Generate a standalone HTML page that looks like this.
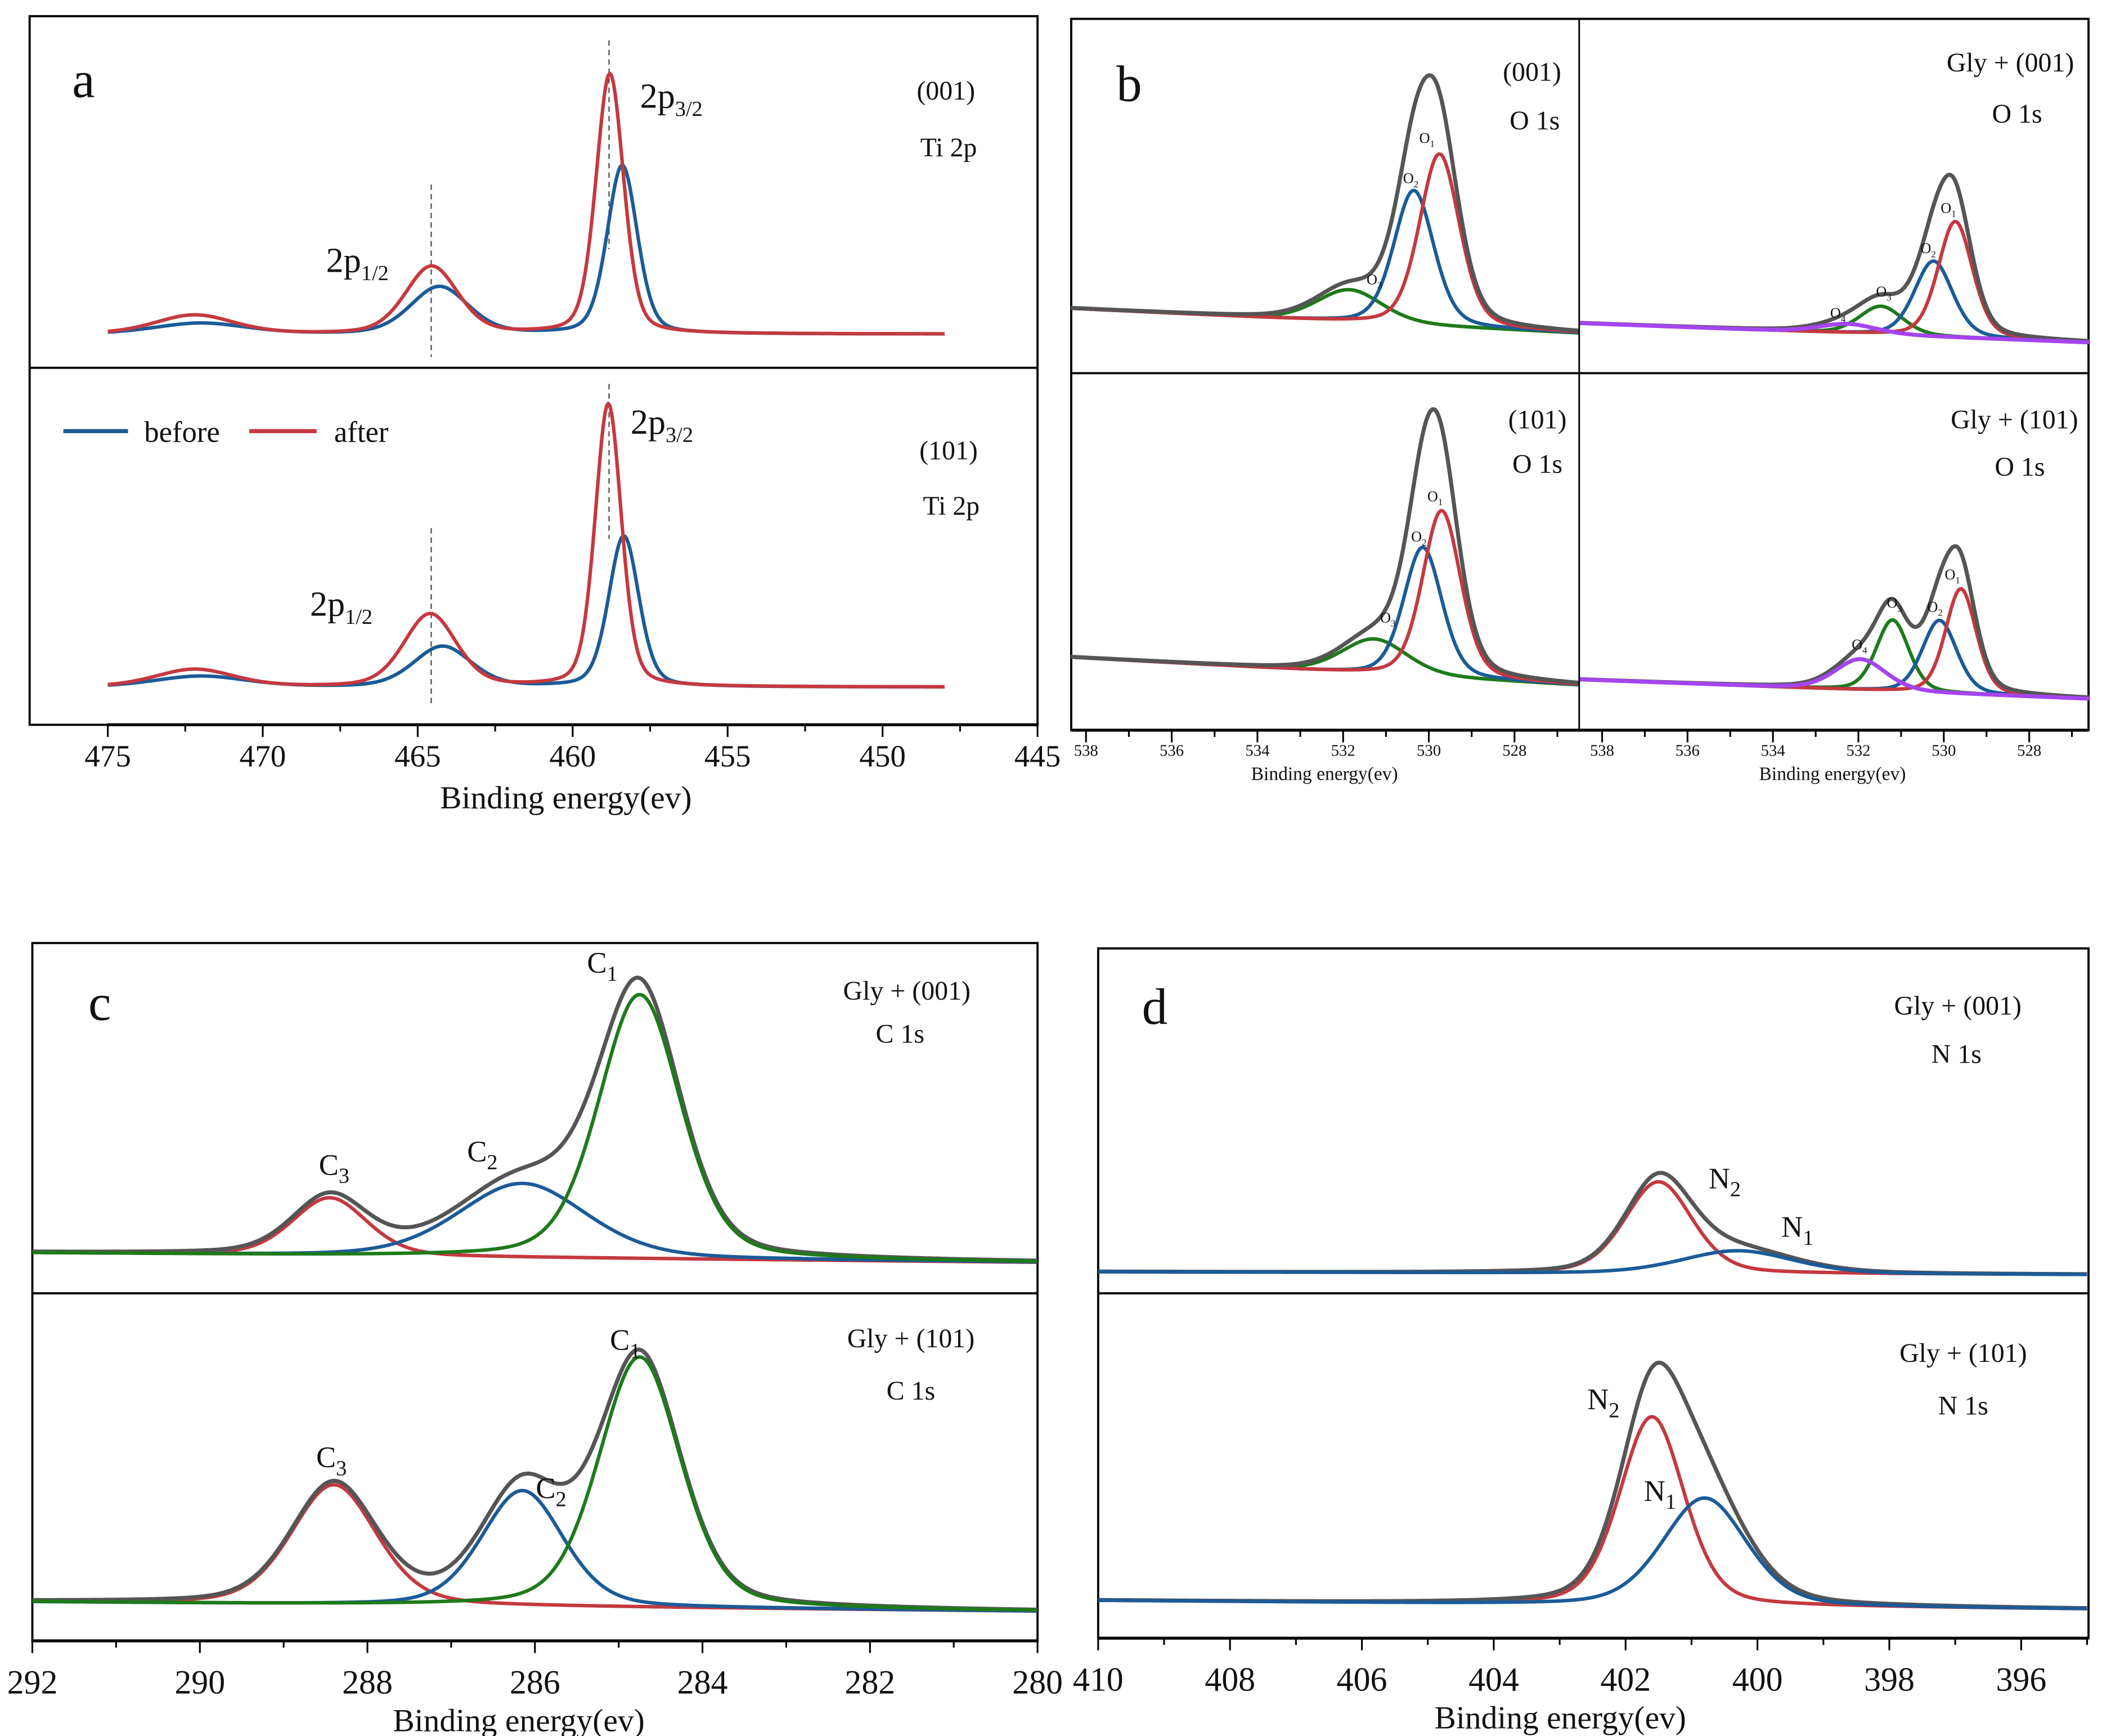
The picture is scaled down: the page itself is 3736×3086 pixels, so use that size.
<!DOCTYPE html>
<html><head><meta charset="utf-8"><style>
html,body{margin:0;padding:0;background:#fff}
svg{display:block}
text{font-family:"Liberation Serif",serif;fill:#111}
</style></head><body>
<svg id="fig" xmlns="http://www.w3.org/2000/svg" width="3736" height="3086" viewBox="0 0 1560 1288.6" preserveAspectRatio="none"></svg>
<script>
// ---- data: peak parameters [center eV, height a.u., FWHM eV] ----
const aTopBefore=[[458.4,125,1.15],[464.3,35,2.2],[472.0,8,3.5]];
const aTopAfter=[[458.8,193,1.05],[464.55,50,2.0],[472.2,14,3.0]];
const aBotBefore=[[458.35,112,1.15],[464.2,30,2.2],[472.0,8,3.5]];
const aBotAfter=[[458.85,210,1.0],[464.6,54,2.0],[472.2,13,3.0]];
const bTL_O1=[529.75,128,1.1], bTL_O2=[530.35,100,1.1], bTL_O3=[531.85,24,1.8];
const bTR_O1=[529.73,86,0.95], bTR_O2=[530.24,56,1.05], bTR_O3=[531.47,21,1.2], bTR_O4=[532.25,7,1.6];
const bBL_O1=[529.7,124,1.05], bBL_O2=[530.14,96,1.05], bBL_O3=[531.27,26,1.8];
const bBR_O1=[529.6,78,0.85], bBR_O2=[530.1,54,0.95], bBR_O3=[531.2,53,0.9], bBR_O4=[531.95,23,1.4];
const cT_C1=[284.75,196,1.15], cT_C2=[286.15,55,1.8], cT_C3=[288.45,43,1.05];
const cB_C1=[284.75,186,1.15], cB_C2=[286.15,86,1.15], cB_C3=[288.4,89,1.2];
const dT_N2=[401.5,68,1.2], dT_N1=[400.3,17,2.0];
const dB_N2=[401.6,140,1.15], dB_N1=[400.8,80,1.5];
const aTicks=[475,470,465,460,455,450,445];
const bTicks=[538,536,534,532,530,528];
const cTicks=[292,290,288,286,284,282,280];
const dTicks=[410,408,406,404,402,400,398,396];

const NS='http://www.w3.org/2000/svg';
const svg=document.getElementById('fig');
function el(tag,attrs,parent){const e=document.createElementNS(NS,tag);for(const k in attrs)e.setAttribute(k,attrs[k]);(parent||svg).appendChild(e);return e;}
function pv(x,p){const d=(x-p[0])/p[2];return p[1]*(0.3/(1+4*d*d)+0.7*Math.exp(-4*Math.LN2*d*d));}
function xs(ax){return e=>ax.px0+(ax.ev0-e)/(ax.ev0-ax.ev1)*(ax.px1-ax.px0);}
function bgf(ax){return e=>ax.bgL+(ax.ev0-e)/(ax.ev0-ax.ev1)*(ax.bgR-ax.bgL);}
function curve(ax,peaks,from,to,color,name,w){
  const X=xs(ax),B=bgf(ax);let d='';const n=500;
  for(let i=0;i<=n;i++){const e=from+(to-from)*i/n;let v=0;peaks.forEach(p=>v+=pv(e,p));d+=(i?'L':'M')+X(e).toFixed(2)+','+(B(e)-v).toFixed(2);}
  const p=el('path',{d:d,fill:'none',stroke:color,'stroke-width':w||2.6,'stroke-linejoin':'round'});
  
  
  return p;
}
function txt(x,y,s,size,name,anchor){const t=el('text',{x:x,y:y,'font-size':size,'text-anchor':anchor||'middle'});t.innerHTML=s;
  
  
  return t;}
function xaxis(ax,ticks,y,minorStep,size,labY,name){
  const X=xs(ax);
  const g=el('g',{});
  
  
  el('line',{x1:ax.px0,x2:ax.px1,y1:y,y2:y,stroke:'#000','stroke-width':2.2},g);
  const lo=Math.min(ax.ev0,ax.ev1),hi=Math.max(ax.ev0,ax.ev1);
  for(let e=Math.ceil(lo/minorStep)*minorStep;e<=hi+1e-9;e+=minorStep){
    const major=ticks.some(t=>Math.abs(t-e)<1e-6);
    el('line',{x1:X(e),x2:X(e),y1:y,y2:y+(major?9:5),stroke:'#000','stroke-width':1.3},g);
  }
  ticks.forEach(t=>{const tt=el('text',{x:X(t),y:labY,'font-size':size,'text-anchor':'middle'},g);tt.textContent=t;
    
    });
}
const RED='#c4393f',BLUE='#1b5b98',GRAY='#555',GREEN='#1e7a1a',PURP='#a445ee';

// ---------- panel a ----------
el('rect',{x:22,y:12,width:748,height:526,fill:'none',stroke:'#000','stroke-width':1.6});
el('line',{x1:22,x2:770,y1:273,y2:273,stroke:'#000','stroke-width':1.6});
const aT={px0:80,px1:770,ev0:475,ev1:445,bgL:248,bgR:248};
const aB={px0:80,px1:770,ev0:475,ev1:445,bgL:510,bgR:510};
[[452,30,185],[320,137,265],[452,285,400],[320,392,522]].forEach(l=>el('line',{x1:l[0],x2:l[0],y1:l[1],y2:l[2],stroke:'#444','stroke-width':0.9,'stroke-dasharray':'4,3'}));
curve(aT,aTopBefore,475,448,BLUE,'a001-before');
curve(aT,aTopAfter,475,448,RED,'a001-after');
curve(aB,aBotBefore,475,448,BLUE,'a101-before');
curve(aB,aBotAfter,475,448,RED,'a101-after');
xaxis(aT,aTicks,538,2.5,23,569,'a-x-axis');
txt(420,600,'Binding energy(ev)',24,'a-x-axis-title');
txt(62,72,'a',38,'panel-label-a');
txt(475,80,'2p<tspan font-size="16" dy="6">3/2</tspan>',26,'a001-peak-2p32','start');
txt(242,202,'2p<tspan font-size="16" dy="6">1/2</tspan>',26,'a001-peak-2p12','start');
txt(468,322,'2p<tspan font-size="16" dy="6">3/2</tspan>',26,'a101-peak-2p32','start');
txt(230,457,'2p<tspan font-size="16" dy="6">1/2</tspan>',26,'a101-peak-2p12','start');
txt(702,74,'(001)',20,'a001-label');txt(704,116,'Ti 2p',20,'a001-element');
txt(704,341,'(101)',20,'a101-label');txt(706,382,'Ti 2p',20,'a101-element');
el('line',{x1:47,x2:95,y1:320,y2:320,stroke:BLUE,'stroke-width':3});
txt(107,328,'before',22,'legend-before','start');
el('line',{x1:185,x2:235,y1:320,y2:320,stroke:RED,'stroke-width':3});
txt(248,328,'after',22,'legend-after','start');

// ---------- panel b ----------
el('rect',{x:795,y:14,width:755,height:528,fill:'none',stroke:'#000','stroke-width':1.6});
el('line',{x1:795,x2:1550,y1:277,y2:277,stroke:'#000','stroke-width':1.6});
const bTL={px0:806,px1:1124,ev0:538,ev1:528,bgL:229.5,bgR:245};
const bTR={px0:1189,px1:1506,ev0:538,ev1:528,bgL:240.5,bgR:252.5};
const bBL={px0:806,px1:1124,ev0:538,ev1:528,bgL:488.5,bgR:506};
const bBR={px0:1189,px1:1506,ev0:538,ev1:528,bgL:505,bgR:517};
const L0=538.35,L1=526.5,R0=538.55,R1=526.6;
curve(bTL,[bTL_O3],L0,L1,GREEN,'b001-O3');
curve(bTL,[bTL_O2],L0,L1,BLUE,'b001-O2');
curve(bTL,[bTL_O1],L0,L1,RED,'b001-O1');
curve(bTL,[bTL_O1,bTL_O2,bTL_O3],L0,L1,GRAY,'b001-envelope',3);
curve(bTR,[bTR_O3],R0,R1,GREEN,'bgly001-O3');
curve(bTR,[bTR_O2],R0,R1,BLUE,'bgly001-O2');
curve(bTR,[bTR_O1],R0,R1,RED,'bgly001-O1');
curve(bTR,[bTR_O1,bTR_O2,bTR_O3,bTR_O4],R0,R1,GRAY,'bgly001-envelope',3);
curve(bTR,[bTR_O4],R0,R1,PURP,'bgly001-O4',3);
curve(bBL,[bBL_O3],L0,L1,GREEN,'b101-O3');
curve(bBL,[bBL_O2],L0,L1,BLUE,'b101-O2');
curve(bBL,[bBL_O1],L0,L1,RED,'b101-O1');
curve(bBL,[bBL_O1,bBL_O2,bBL_O3],L0,L1,GRAY,'b101-envelope',3);
curve(bBR,[bBR_O3],R0,R1,GREEN,'bgly101-O3');
curve(bBR,[bBR_O2],R0,R1,BLUE,'bgly101-O2');
curve(bBR,[bBR_O1],R0,R1,RED,'bgly101-O1');
curve(bBR,[bBR_O1,bBR_O2,bBR_O3,bBR_O4],R0,R1,GRAY,'bgly101-envelope',3);
curve(bBR,[bBR_O4],R0,R1,PURP,'bgly101-O4',3);
el('line',{x1:1172,x2:1172,y1:14,y2:542,stroke:'#000','stroke-width':1.2});
xaxis({px0:795,px1:1172,ev0:538+11/31.8,ev1:538-366/31.8},bTicks,542,1,12,561,'b-left-x-axis');
xaxis({px0:1172,px1:1550,ev0:538+17/31.7,ev1:538-361/31.7},bTicks,542,1,12,561,'b-right-x-axis');
txt(983,579,'Binding energy(ev)',14,'b-left-x-axis-title');
txt(1360,579,'Binding energy(ev)',14,'b-right-x-axis-title');
txt(838,75,'b',38,'panel-label-b');
const sub=(s,n,sz)=>s+'<tspan font-size="'+sz+'" dy="3">'+n+'</tspan>';
txt(1059,106,sub('O',1,7),11,'label-O1');txt(1047,136,sub('O',2,7),11,'label-O2');txt(1020,211,sub('O',3,7),11,'label-O3');
txt(1446,158,sub('O',1,7),11,'label-O1');txt(1431,188,sub('O',2,7),11,'label-O2');txt(1398,220,sub('O',3,7),11,'label-O3');txt(1364,236,sub('O',4,7),11,'label-O4');
txt(1065,372,sub('O',1,7),11,'label-O1');txt(1053,402,sub('O',2,7),11,'label-O2');txt(1030,462,sub('O',3,7),11,'label-O3');
txt(1449,430,sub('O',1,7),11,'label-O1');txt(1436,454,sub('O',2,7),11,'label-O2');txt(1406,451,sub('O',3,7),11,'label-O3');txt(1380,482,sub('O',4,7),11,'label-O4');
txt(1137,60,'(001)',20,'b001-label');txt(1139,96,'O 1s',20,'b001-element');
txt(1492,53,'Gly + (001)',20,'bgly001-label');txt(1497,91,'O 1s',20,'bgly001-element');
txt(1141,318,'(101)',20,'b101-label');txt(1141,351,'O 1s',20,'b101-element');
txt(1495,318,'Gly + (101)',20,'bgly101-label');txt(1499,353,'O 1s',20,'bgly101-element');

// ---------- panel c ----------
el('rect',{x:24,y:700,width:746,height:518,fill:'none',stroke:'#000','stroke-width':1.6});
el('line',{x1:24,x2:770,y1:960,y2:960,stroke:'#000','stroke-width':1.6});
const cT={px0:24,px1:770,ev0:292,ev1:280,bgL:930,bgR:937};
const cB={px0:24,px1:770,ev0:292,ev1:280,bgL:1189,bgR:1196};
curve(cT,[cT_C3],292,280,RED,'c001-C3');
curve(cT,[cT_C2],292,280,BLUE,'c001-C2');
curve(cT,[cT_C1,cT_C2,cT_C3],292,280,GRAY,'c001-envelope',3);
curve(cT,[cT_C1],292,280,GREEN,'c001-C1');
curve(cB,[cB_C3],292,280,RED,'c101-C3');
curve(cB,[cB_C2],292,280,BLUE,'c101-C2');
curve(cB,[cB_C1,cB_C2,cB_C3],292,280,GRAY,'c101-envelope',3);
curve(cB,[cB_C1],292,280,GREEN,'c101-C1');
xaxis(cT,cTicks,1218,1,25,1257,'c-x-axis');
txt(385,1285,'Binding energy(ev)',24,'c-x-axis-title');
txt(74,757,'c',38,'panel-label-c');
const subC=(s,n)=>s+'<tspan font-size="16" dy="6">'+n+'</tspan>';
txt(447,722,subC('C',1),22,'label-C1');
txt(358,862,subC('C',2),22,'label-C2');
txt(248,872,subC('C',3),22,'label-C3');
txt(464,1002,subC('C',1),22,'label-C1');
txt(409,1112,subC('C',2),22,'label-C2');
txt(246,1089,subC('C',3),22,'label-C3');
txt(673,742,'Gly + (001)',20,'c001-label');txt(668,774,'C 1s',20,'c001-element');
txt(676,1000,'Gly + (101)',20,'c101-label');txt(676,1039,'C 1s',20,'c101-element');

// ---------- panel d ----------
el('rect',{x:815,y:704,width:735,height:512,fill:'none',stroke:'#000','stroke-width':1.6});
el('line',{x1:815,x2:1550,y1:960,y2:960,stroke:'#000','stroke-width':1.6});
const dT={px0:815,px1:1500,ev0:410,ev1:396,bgL:944,bgR:946};
const dB={px0:815,px1:1500,ev0:410,ev1:396,bgL:1188,bgR:1194};
curve(dT,[dT_N2],410,395,RED,'d001-N2');
curve(dT,[dT_N1,dT_N2],410,395,GRAY,'d001-envelope',3);
curve(dT,[dT_N1],410,395,BLUE,'d001-N1');
curve(dB,[dB_N2],410,395,RED,'d101-N2');
curve(dB,[dB_N1,dB_N2],410,395,GRAY,'d101-envelope',3);
curve(dB,[dB_N1],410,395,BLUE,'d101-N1');
xaxis({px0:815,px1:1550,ev0:410,ev1:410-735/48.93},dTicks,1216,1,25,1255,'d-x-axis');
txt(1158,1283,'Binding energy(ev)',24,'d-x-axis-title');
txt(857,760,'d',38,'panel-label-d');
txt(1280,882,subC('N',2),22,'label-N2');
txt(1334,918,subC('N',1),22,'label-N1');
txt(1190,1046,subC('N',2),22,'label-N2');
txt(1232,1114,subC('N',1),22,'label-N1');
txt(1453,753,'Gly + (001)',20,'d001-label');txt(1452,789,'N 1s',20,'d001-element');
txt(1457,1011,'Gly + (101)',20,'d101-label');txt(1457,1050,'N 1s',20,'d101-element');
</script>
</body></html>
